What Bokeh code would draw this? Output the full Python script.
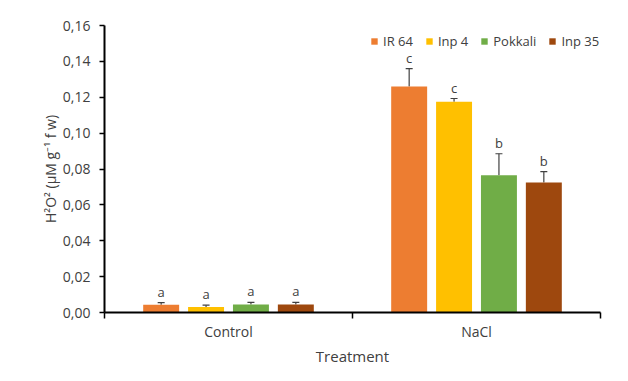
from bokeh.plotting import figure
from bokeh.models import (ColumnDataSource, FixedTicker, Range1d, Whisker, TeeHead,
                          Legend, LegendItem)
from bokeh.embed import file_html
from bokeh.resources import INLINE
from bokeh.core.properties import value

# ---- data ----
treatments = ["Control", "NaCl"]
varieties = ["IR 64", "Inp 4", "Pokkali", "Inp 35"]
colors = ["#ED7D31", "#FFC000", "#70AD47", "#9E480E"]
means = {
    "IR 64":   [0.0043, 0.126],
    "Inp 4":   [0.0030, 0.1175],
    "Pokkali": [0.0044, 0.0765],
    "Inp 35":  [0.0044, 0.0725],
}
errors = {
    "IR 64":   [0.0012, 0.010],
    "Inp 4":   [0.0011, 0.0018],
    "Pokkali": [0.0013, 0.0120],
    "Inp 35":  [0.0012, 0.0060],
}
letters = {
    "IR 64":   ["a", "c"],
    "Inp 4":   ["a", "c"],
    "Pokkali": ["a", "b"],
    "Inp 35":  ["a", "b"],
}
y_ticks = [0.0, 0.02, 0.04, 0.06, 0.08, 0.10, 0.12, 0.14, 0.16]
y_tick_labels = ["0,00", "0,02", "0,04", "0,06", "0,08", "0,10", "0,12", "0,14", "0,16"]

FONT = "Open Sans"
TXT = "#404040"

p = figure(width=612, height=368, output_backend="svg", toolbar_location=None,
           x_range=Range1d(0, len(treatments)), y_range=Range1d(0, 0.16),
           min_border_left=104, min_border_right=12, min_border_top=25,
           min_border_bottom=56)
p.outline_line_color = None
p.xgrid.visible = False
p.ygrid.visible = False
p.background_fill_color = "white"
p.border_fill_color = "white"

bar_w = 0.145
step = 0.181
n = len(varieties)
items = []
for i, v in enumerate(varieties):
    off = (i - (n - 1) / 2) * step
    xs = [k + 0.5 + off for k in range(len(treatments))]
    tops = means[v]
    ups = [m + e for m, e in zip(means[v], errors[v])]
    src = ColumnDataSource(dict(x=xs, top=tops, up=ups, lab=letters[v]))
    r = p.vbar(x="x", top="top", width=bar_w, bottom=0, source=src,
               fill_color=colors[i], line_color=None)
    items.append(LegendItem(label=v, renderers=[r]))
    w = Whisker(source=src, base="x", lower="top", upper="up", dimension="height",
                line_color="#404040", line_width=1.2,
                upper_head=TeeHead(size=7, line_color="#404040", line_width=1.2),
                lower_head=None)
    p.add_layout(w)
    p.text(x="x", y="up", text="lab", source=src, text_align="center",
           text_baseline="bottom", y_offset=-2, text_font=value(FONT),
           text_font_size="13px", text_color=TXT)

legend = Legend(items=items, orientation="horizontal", location=(266, 262),
                glyph_width=8, glyph_height=8, label_text_font=FONT,
                label_text_font_size="13px", label_text_color=TXT,
                spacing=12, padding=0, margin=0, label_standoff=5,
                background_fill_alpha=0, border_line_color=None)
p.add_layout(legend, "center")

# y axis
ya = p.yaxis[0]
ya.ticker = FixedTicker(ticks=y_ticks)
ya.major_label_overrides = {t: l for t, l in zip(y_ticks, y_tick_labels)}
ya.axis_line_color = "black"
ya.axis_line_width = 2
ya.major_tick_line_color = "black"
ya.major_tick_line_width = 1.5
ya.major_tick_out = 5
ya.major_tick_in = 0
ya.minor_tick_line_color = None
ya.major_label_text_font = FONT
ya.major_label_text_font_size = "14px"
ya.major_label_text_color = TXT
ya.major_label_standoff = 9
ya.axis_label = "H²O² (µM g⁻¹ f w)"
ya.axis_label_text_font = FONT
ya.axis_label_text_font_size = "14px"
ya.axis_label_text_font_style = "normal"
ya.axis_label_text_color = TXT
ya.axis_label_standoff = 0

# x axis
xa = p.xaxis[0]
centers = [k + 0.5 for k in range(len(treatments))]
bounds = [float(k) for k in range(len(treatments) + 1)]
xa.ticker = FixedTicker(ticks=centers, minor_ticks=bounds)
xa.major_label_overrides = {c: t for c, t in zip(centers, treatments)}
xa.axis_line_color = "black"
xa.axis_line_width = 2
xa.major_tick_line_color = None
xa.major_tick_out = 0
xa.major_tick_in = 0
xa.minor_tick_line_color = "black"
xa.minor_tick_line_width = 1.5
xa.minor_tick_out = 6
xa.minor_tick_in = 0
xa.major_label_text_font = FONT
xa.major_label_text_font_size = "14px"
xa.major_label_text_color = TXT
xa.major_label_standoff = 3
xa.axis_label = "Treatment"
xa.axis_label_text_font = FONT
xa.axis_label_text_font_size = "15px"
xa.axis_label_text_font_style = "normal"
xa.axis_label_text_color = TXT
xa.axis_label_standoff = 2

open("out.html", "w").write(file_html(p, INLINE))
